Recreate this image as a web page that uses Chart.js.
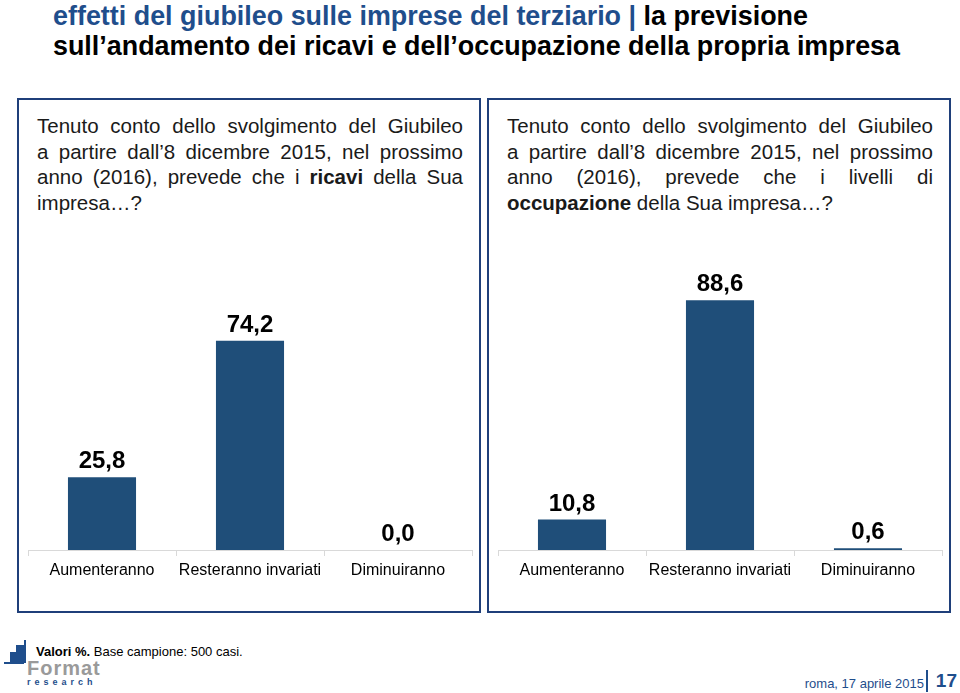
<!DOCTYPE html>
<html lang="it">
<head>
    <meta charset="UTF-8">
    <title>effetti del giubileo sulle imprese del terziario</title>
    <script src="https://cdn.jsdelivr.net/npm/chart.js"></script>
    <style>
        body {
            margin: 0;
            width: 960px;
            height: 693px;
            position: relative;
            background: #fff;
            font-family: 'Liberation Sans', Arial, sans-serif;
            overflow: hidden;
        }
        .title {
            position: absolute;
            left: 53px;
            top: 1px;
            font-weight: bold;
            font-size: 27px;
            line-height: 30px;
            color: #000;
            white-space: nowrap;
        }
        .title div { transform-origin: 0 0; }
        .title .blue { color: #1f4e8c; }
        .box {
            position: absolute;
            top: 98px;
            height: 511px;
            width: 460px;
            border: 2px solid #1f3f7a;
        }
        .question {
            position: absolute;
            top: 13px;
            left: 18px;
            width: 426px;
            font-size: 20.5px;
            line-height: 25.5px;
            color: #1a1a1a;
        }
        .question .j {
            text-align: justify;
            text-align-last: justify;
            white-space: nowrap;
        }
        .panel {
            position: absolute;
            top: 240px;
            width: 462px;
            height: 360px;
        }
        .note {
            position: absolute;
            left: 36px;
            top: 644px;
            font-size: 13px;
            color: #000;
        }
        .date {
            position: absolute;
            right: 36px;
            top: 676px;
            font-size: 13px;
            color: #1f4e8c;
        }
        .page {
            position: absolute;
            right: 3px;
            top: 670px;
            font-size: 19px;
            font-weight: bold;
            color: #1f4e8c;
            border-left: 2px solid #1f4e8c;
            padding-left: 8px;
            line-height: 22px;
        }
    </style>
</head>
<body>
    <div class="title">
        <div id="riga1"><span class="blue">effetti del giubileo sulle imprese del terziario |</span> la previsione</div>
        <div id="riga2">sull’andamento dei ricavi e dell’occupazione della propria impresa</div>
    </div>

    <div class="box" style="left:17px;">
        <div class="question">
            <div class="j">Tenuto conto dello svolgimento del Giubileo</div>
            <div class="j">a partire dall’8 dicembre 2015, nel prossimo</div>
            <div class="j">anno (2016), prevede che i <b>ricavi</b> della Sua</div>
            <div>impresa…?</div>
        </div>
    </div>
    <div class="box" style="left:487px;">
        <div class="question">
            <div class="j">Tenuto conto dello svolgimento del Giubileo</div>
            <div class="j">a partire dall’8 dicembre 2015, nel prossimo</div>
            <div class="j">anno (2016), prevede che i livelli di</div>
            <div><b>occupazione</b> della Sua impresa…?</div>
        </div>
    </div>

    <div class="panel" style="left:18px;"><canvas id="chartRicavi"></canvas></div>
    <div class="panel" style="left:488px;"><canvas id="chartOccupazione"></canvas></div>

    <!-- logo Format research -->
    <div style="position:absolute;left:24px;top:640px;width:2px;height:23px;background:#1f4e8c;"></div>
    <div style="position:absolute;left:16px;top:645px;width:8px;height:18px;background:#1f4e8c;"></div>
    <div style="position:absolute;left:10px;top:652px;width:6px;height:11px;background:#1f4e8c;"></div>
    <div style="position:absolute;left:4px;top:662px;width:20px;height:2px;background:#1f4e8c;"></div>
    <div style="position:absolute;left:27px;top:657px;font-size:20px;font-weight:bold;color:#9a9a9a;letter-spacing:1px;">Format</div>
    <div style="position:absolute;left:27px;top:677px;font-size:9px;font-weight:bold;color:#1f4e8c;letter-spacing:4px;">research</div>

    <div class="note"><b>Valori %.</b> Base campione: 500 casi.</div>
    <div class="date">roma, 17 aprile 2015</div>
    <div class="page">17</div>

    <script>
        const categorie = ['Aumenteranno', 'Resteranno invariati', 'Diminuiranno'];
        const ricavi = [25.8, 74.2, 0.0];
        const occupazione = [10.8, 88.6, 0.6];
        const coloreBarre = '#1f4e79';

        // titolo in carattere stretto: comprimo le righe alla larghezza dell'originale
        function stringi(id, larghezza) {
            const el = document.getElementById(id);
            el.style.display = 'inline-block';
            const w = el.getBoundingClientRect().width;
            el.style.transform = 'scaleX(' + (larghezza / w) + ')';
            el.style.display = 'block';
            el.style.width = w + 'px';
        }
        stringi('riga1', 755);
        stringi('riga2', 847);

        // etichette dei valori sopra le barre (con la virgola)
        const etichetteValori = {
            id: 'etichetteValori',
            afterDatasetsDraw(chart) {
                const ctx = chart.ctx;
                const meta = chart.getDatasetMeta(0);
                ctx.save();
                ctx.font = 'bold 24px "Liberation Sans", Arial, sans-serif';
                ctx.fillStyle = '#000';
                ctx.textAlign = 'center';
                ctx.textBaseline = 'alphabetic';
                meta.data.forEach((bar, i) => {
                    const v = chart.data.datasets[0].data[i];
                    ctx.fillText(v.toFixed(1).replace('.', ','), bar.x, bar.y - 9);
                });
                ctx.restore();
            }
        };

        function creaGrafico(id, valori) {
            const ctx = document.getElementById(id).getContext('2d');
            return new Chart(ctx, {
                type: 'bar',
                data: {
                    labels: categorie,
                    datasets: [{
                        data: valori,
                        backgroundColor: coloreBarre,
                        borderWidth: 0,
                        barPercentage: 0.46,
                        categoryPercentage: 1
                    }]
                },
                options: {
                    responsive: true,
                    maintainAspectRatio: false,
                    animation: false,
                    layout: { padding: { top: 28, bottom: 10, left: 10, right: 8 } },
                    plugins: {
                        legend: { display: false },
                        tooltip: { enabled: false }
                    },
                    scales: {
                        x: {
                            afterFit(scale) { scale.height = 40; },
                            grid: {
                                drawOnChartArea: false,
                                color: '#d9d9d9',
                                tickLength: 6
                            },
                            border: { color: '#d9d9d9' },
                            ticks: {
                                color: '#000',
                                padding: 5,
                                maxRotation: 0,
                                autoSkip: false,
                                font: { family: '"Liberation Sans", Arial, sans-serif', size: 16 }
                            }
                        },
                        y: {
                            display: false,
                            min: 0,
                            max: 100
                        }
                    }
                },
                plugins: [etichetteValori]
            });
        }

        creaGrafico('chartRicavi', ricavi);
        creaGrafico('chartOccupazione', occupazione);
    </script>
</body>
</html>
